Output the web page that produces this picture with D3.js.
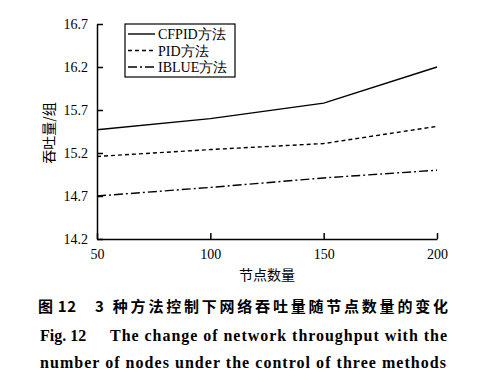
<!DOCTYPE html>
<html>
<head>
<meta charset="utf-8">
<script src="https://cdn.jsdelivr.net/npm/d3@7"></script>
<style>
  body { margin: 0; background: #fff; }
  svg text { font-family: "Liberation Serif", "Times New Roman", serif; }
  .cjk { font-family: "Noto Sans CJK SC", sans-serif; }
</style>
</head>
<body>
<svg width="488" height="392"></svg>
<script>
// data
var nodes = [50, 100, 150, 200];
var cfpid = [15.47, 15.6, 15.78, 16.2];
var pid = [15.16, 15.24, 15.31, 15.51];
var iblue = [14.7, 14.8, 14.91, 15.0];
var yTicks = [14.2, 14.7, 15.2, 15.7, 16.2, 16.7];
var seriesNames = ["CFPID方法", "PID方法", "IBLUE方法"];

var svg = d3.select("svg");
var margin = { top: 24, left: 97 };
var width = 340, height = 215;

var g = svg.append("g")
  .attr("transform", "translate(" + margin.left + "," + margin.top + ")");

var x = d3.scaleLinear().domain([50, 200]).range([0, width]);
var y = d3.scaleLinear().domain([14.2, 16.7]).range([height, 0]);

// bottom axis, ticks inward
var xAxis = g.append("g")
  .attr("transform", "translate(0," + height + ")")
  .call(d3.axisBottom(x).tickValues(nodes).tickSize(-6).tickSizeOuter(0).tickPadding(7).tickFormat(d3.format("d")));
// left axis, ticks inward
var yAxis = g.append("g")
  .call(d3.axisLeft(y).tickValues(yTicks).tickSize(-6).tickSizeOuter(0).tickPadding(9).tickFormat(d3.format(".1f")));

[xAxis, yAxis].forEach(function (a) {
  a.selectAll("path, line").attr("stroke", "#000").attr("stroke-width", 1.5);
  a.selectAll("text").attr("font-size", "14px").attr("fill", "#000")
    .style("font-family", "'Liberation Serif', serif");
});
xAxis.selectAll("text").attr("dy", "0.9em");

var styles = [
  { data: cfpid, dash: null },
  { data: pid, dash: "4,3" },
  { data: iblue, dash: "9,3,2,3" }
];

var line = d3.line()
  .x(function (d, i) { return x(nodes[i]); })
  .y(function (d) { return y(d); });

styles.forEach(function (s) {
  g.append("path")
    .datum(s.data)
    .attr("fill", "none")
    .attr("stroke", "#000")
    .attr("stroke-width", 1.4)
    .attr("stroke-dasharray", s.dash)
    .attr("d", line);
});

// legend
var legend = g.append("g").attr("transform", "translate(28,0)");
legend.append("rect")
  .attr("width", 110).attr("height", 53)
  .attr("fill", "#fff").attr("stroke", "#000").attr("stroke-width", 1.2);
styles.forEach(function (s, i) {
  var ly = 10 + i * 16.5;
  legend.append("line")
    .attr("x1", 3).attr("x2", 30).attr("y1", ly).attr("y2", ly)
    .attr("stroke", "#000").attr("stroke-width", 1.4)
    .attr("stroke-dasharray", s.dash);
  legend.append("text")
    .attr("x", 33).attr("y", ly + 5)
    .attr("font-size", "14px")
    .text(seriesNames[i]);
});

// axis titles
svg.append("text")
  .attr("class", "cjk")
  .attr("x", 267).attr("y", 280)
  .attr("text-anchor", "middle")
  .attr("font-size", "14px")
  .text("节点数量");

svg.append("text")
  .attr("class", "cjk")
  .attr("transform", "translate(54,133) rotate(-90)")
  .attr("text-anchor", "middle")
  .attr("font-size", "14px")
  .text("吞吐量/组");

// caption
svg.append("text")
  .attr("class", "cjk")
  .attr("x", 38).attr("y", 312)
  .attr("font-size", "15px").attr("font-weight", "bold")
  .attr("textLength", 38).attr("lengthAdjust", "spacing")
  .text("图 12");
svg.append("text")
  .attr("class", "cjk")
  .attr("x", 95).attr("y", 312)
  .attr("font-size", "15px").attr("font-weight", "bold")
  .attr("textLength", 353).attr("lengthAdjust", "spacing")
  .text("3 种方法控制下网络吞吐量随节点数量的变化");

svg.append("text")
  .attr("x", 40).attr("y", 341)
  .attr("font-size", "16px").attr("font-weight", "bold")
  .text("Fig. 12");
svg.append("text")
  .attr("x", 110).attr("y", 341)
  .attr("font-size", "16px").attr("font-weight", "bold")
  .attr("textLength", 337).attr("lengthAdjust", "spacing")
  .text("The change of network throughput with the");

svg.append("text")
  .attr("x", 40).attr("y", 368)
  .attr("font-size", "16px").attr("font-weight", "bold")
  .attr("textLength", 406).attr("lengthAdjust", "spacing")
  .text("number of nodes under the control of three methods");
</script>
</body>
</html>
